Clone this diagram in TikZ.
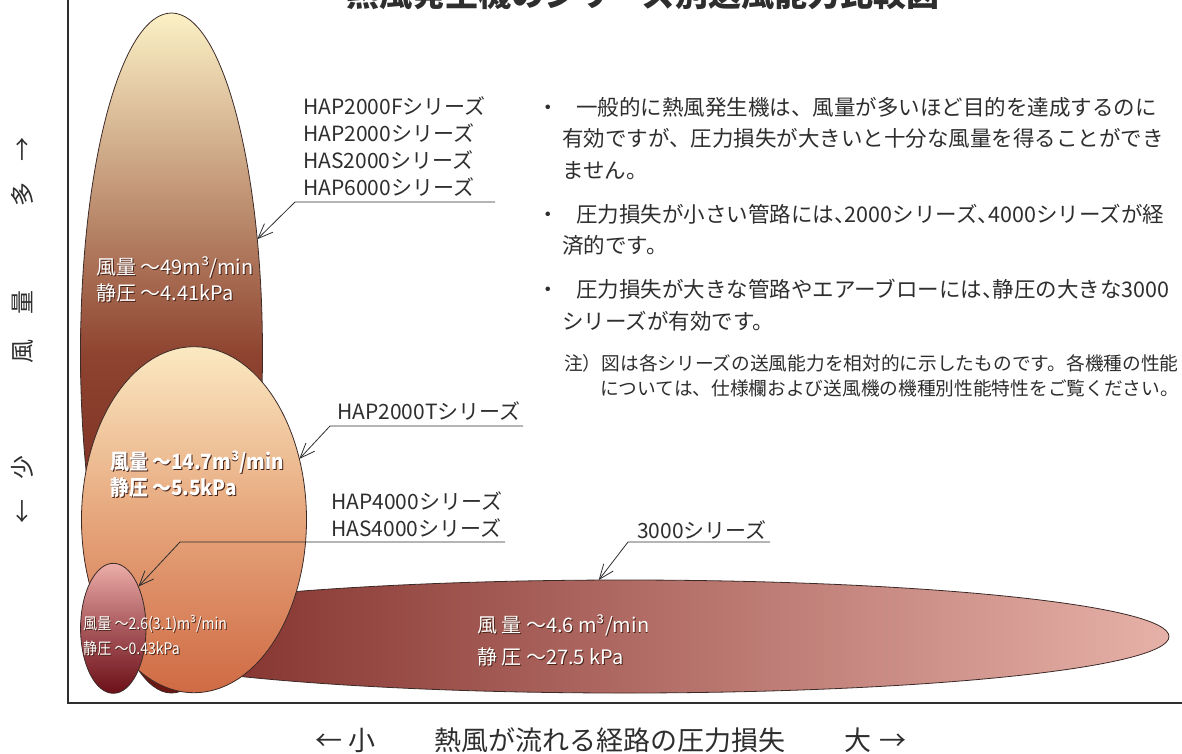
\documentclass[tikz,border=0pt]{standalone}
\usepackage{fontspec}
\setmainfont{Noto Sans CJK JP}
\usepackage{graphicx}
\usepackage{tikz}
\usetikzlibrary{positioning,shapes.geometric,arrows.meta}

\definecolor{edgecol}{HTML}{3C2A28}
\definecolor{txtcol}{HTML}{2E2E2E}
\definecolor{shadecol}{HTML}{4A2418}
\definecolor{tallTop}{HTML}{FCF1C6}
\definecolor{tallMid}{HTML}{8E4430}
\definecolor{tallBot}{HTML}{6B1612}
\definecolor{midTop}{HTML}{FBE9C2}
\definecolor{midMid}{HTML}{E6A57B}
\definecolor{midBot}{HTML}{CF6A44}
\definecolor{smTop}{HTML}{ECADA8}
\definecolor{smMid}{HTML}{A8585C}
\definecolor{smBot}{HTML}{6C1018}
\definecolor{lngLeft}{HTML}{78221E}
\definecolor{lngRight}{HTML}{E6B1A8}

\newcommand{\shad}[1]{\rlap{\kern0.9pt\raisebox{-0.9pt}{\color{shadecol}#1}}#1}
\newcommand{\tc}{\makebox[0.5em][l]{、}}

\tikzset{
  blob/.style={ellipse, draw=edgecol, line width=0.8pt, inner sep=0pt, outer sep=0pt},
  series/.style={text=txtcol, inner sep=0pt, align=left, font=\fontsize{21}{27}\selectfont},
  spec/.style={text=white, inner sep=0pt, align=left, anchor=north west},
  memo/.style={text=txtcol, inner sep=0pt, align=left, font=\fontsize{21.5}{31.5}\selectfont},
  lead/.style={draw=txtcol, line width=0.8pt, {Straight Barb[length=15pt,width=12pt]}-},
  axis/.style={draw=txtcol, line width=1.6pt},
}

\begin{document}
\begin{tikzpicture}[x=1pt,y=-1pt]
    \useasboundingbox (0,0) rectangle (1182,753);
    % frame
    \coordinate (ytop) at (68,0);
    \coordinate (org) at (68,703);
    \coordinate (xend) at (1182,703);
    \draw[axis] (ytop) -- (org) -- (xend);

    % series blobs
    \node[blob, minimum width=182pt, minimum height=680pt,
          top color=tallTop, bottom color=tallBot, middle color=tallMid] (tall) at (171.5,353) {};
    \node[blob, minimum width=1088pt, minimum height=113pt,
          left color=lngLeft, right color=lngRight] (lng) at (625,636.5) {};
    \node[blob, minimum width=225pt, minimum height=346pt,
          top color=midTop, bottom color=midBot, middle color=midMid] (mid) at (194,519.7) {};
    \node[blob, minimum width=65.4pt, minimum height=130pt,
          top color=smTop, bottom color=smBot, middle color=smMid] (small) at (113.3,628.3) {};

    % specs inside the blobs
    \node[spec, font=\fontsize{20}{26}\selectfont] (tallspec) at (96,256.4)
        {\strut\shad{風量 ～49m³/min}\\\shad{静圧 ～4.41kPa}};
    \node[spec, font=\bfseries\fontsize{21}{26}\selectfont] (midspec) at (110,450.8)
        {\strut\shad{\scalebox{0.9}[1]{風量 ～14.7m³/min}}\\\shad{\scalebox{0.9}[1]{静圧 ～5.5kPa}}};
    \node[spec, font=\fontsize{16}{25}\selectfont] (smallspec) at (83,611.6)
        {\strut\shad{\scalebox{0.88}[1]{風量 ～2.6(3.1)m³/min}}\\\shad{\scalebox{0.88}[1]{静圧 ～0.43kPa}}};
    \node[spec, font=\fontsize{20}{32}\selectfont] (lngspec) at (477,610.2)
        {\strut\shad{風 量 ～4.6 m³/min}\\\shad{静 圧 ～27.5 kPa}};

    % series names
    \node[series, anchor=north west] (lblTall) at (303,95.1)
        {\strut HAP2000Fシリーズ\\HAP2000シリーズ\\HAS2000シリーズ\\HAP6000シリーズ};
    \node[series, anchor=base west] (lblMid) at (337,419) {HAP2000Tシリーズ};
    \node[series, anchor=north west] (lblSmall) at (331,490.1)
        {\strut HAP4000シリーズ\\HAS4000シリーズ};
    \node[series, anchor=base west] (lblLng) at (637,538) {3000シリーズ};

    % leaders
    \coordinate (kinkTall) at (295,202);   \coordinate (endTall) at (495,202);
    \coordinate (kinkMid) at (330,426);    \coordinate (endMid) at (523,426);
    \coordinate (kinkSmall) at (180,542);  \coordinate (endSmall) at (505,542);
    \coordinate (kinkLng) at (628,542);    \coordinate (endLng) at (770,542);
    \draw[lead] (tall.53) -- (kinkTall) -- (endTall);
    \draw[lead] (mid.30) -- (kinkMid) -- (endMid);
    \draw[lead] (small.59) -- (kinkSmall) -- (endSmall);
    \draw[lead] (lng.115) -- (kinkLng) -- (endLng);

    % notes
    \node[memo, anchor=north west] (memo1) at (537,92.8)
        {\strut・\hspace*{17.5pt}一般的に熱風発生機は、風量が多いほど目的を達成するのに\\
         \hspace*{25pt}有効ですが、圧力損失が大きいと十分な風量を得ることができ\\
         \hspace*{25pt}ません。\strut};
    \node[memo, below right=12.2pt and 0pt of memo1.south west] (memo2)
        {\strut・\hspace*{17.5pt}圧力損失が小さい管路には\tc 2000シリーズ\tc 4000シリーズが経\\
         \hspace*{25pt}済的です。\strut};
    \node[memo, below right=12.2pt and 0pt of memo2.south west] (memo3)
        {\strut・\hspace*{17.5pt}圧力損失が大きな管路やエアーブローには\tc 静圧の大きな3000\\
         \hspace*{25pt}シリーズが有効です。\strut};
    \node[memo, font=\fontsize{18.7}{25}\selectfont, below right=13.5pt and 27pt of memo3.south west] (memo4)
        {\strut 注）図は各シリーズの送風能力を相対的に示したものです。各機種の性能\\
         \hspace*{36pt}については、仕様欄および送風機の機種別性能特性をご覧ください。};

    % axis titles
    \node[text=txtcol, font=\fontsize{24}{24}\selectfont, rotate=90, inner sep=0pt] (ylab) at (22,330.5)
        {←\hspace*{19.7pt}少\hspace*{92pt}風\hspace*{25pt}量\hspace*{84pt}多\hspace*{21pt}→};
    \node[text=txtcol, font=\fontsize{27}{27}\selectfont, anchor=base, inner sep=0pt] (xlab) at (611,750.5)
        {←\hspace*{7pt}小\hspace*{59pt}熱風が流れる経路の圧力損失\hspace*{59pt}大\hspace*{8pt}→};
    \node[text=txtcol, font=\bfseries\fontsize{33}{33}\selectfont, anchor=base, inner sep=0pt] (title) at (643,6.5)
        {熱風発生機のシリーズ別送風能力比較図};
\end{tikzpicture}
\end{document}
